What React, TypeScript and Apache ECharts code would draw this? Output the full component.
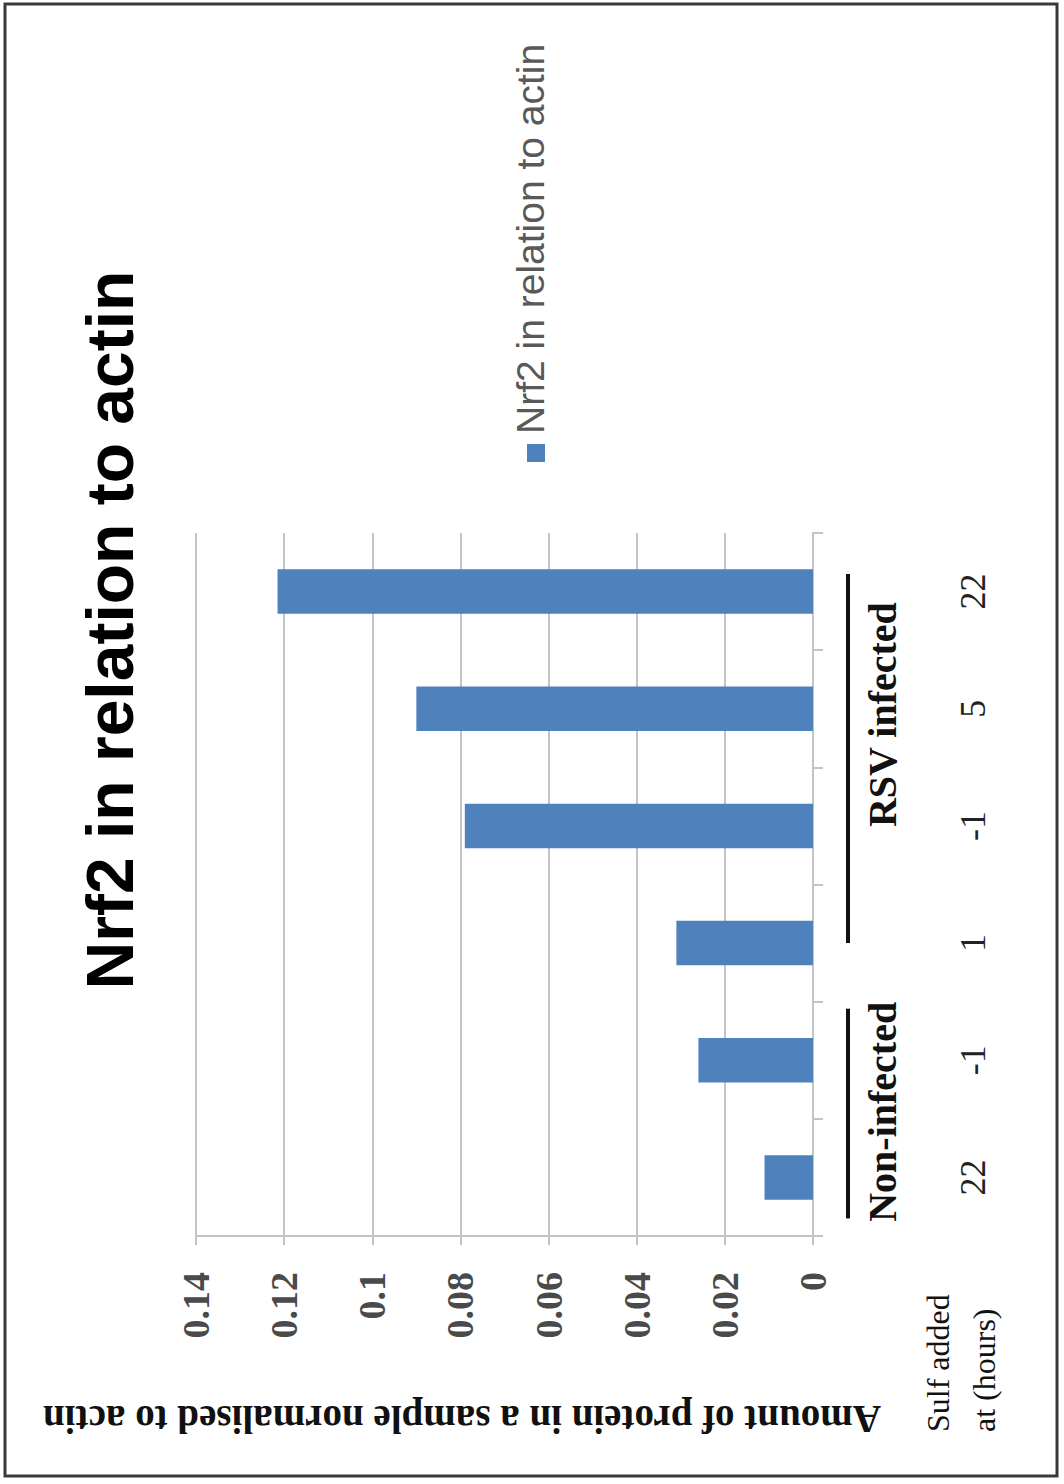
import React, { useEffect, useRef } from 'react';
import * as echarts from 'echarts';

// Time (hours) at which sulforaphane was added, bottom to top
const hoursAdded = ['22', '-1', '1', '-1', '5', '22'];
// Nrf2 band intensity relative to actin
const nrf2Values = [0.011, 0.026, 0.031, 0.079, 0.09, 0.1215];
const valueMin = 0;
const valueMax = 0.14;
const valueInterval = 0.02;

const chartTitle = 'Nrf2 in relation to actin';
const seriesName = 'Nrf2 in relation to actin';
const valueAxisTitle = 'Amount of protein in a sample normalised to actin';
const categoryAxisTitle = 'Sulf added\nat (hours)';
const groupLabels = ['Non-infected', 'RSV infected'];

// Bracket spans, in category-index units
const groupSpans = [
  { from: -0.35, to: 1.44, mid: 0.56 },
  { from: 2.0, to: 5.15, mid: 3.95 },
];

const SERIF = '"Liberation Serif", "Times New Roman", serif';
const SANS = '"Liberation Sans", Arial, sans-serif';
const BAR_BLUE = '#4F81BD';
const GRID_GREY = '#c4c4c4';

export default function App() {
  const ref = useRef<HTMLDivElement>(null);

  useEffect(() => {
    if (!ref.current) return;
    const chart = echarts.init(ref.current, null, { renderer: 'svg' });

    chart.setOption({
      animation: false,
      backgroundColor: '#ffffff',
      grid: { left: 196, right: 251, top: 533, bottom: 248, containLabel: false },
      xAxis: {
        type: 'value',
        inverse: true,
        position: 'bottom',
        min: valueMin,
        max: valueMax,
        interval: valueInterval,
        axisLine: { show: true, lineStyle: { color: GRID_GREY, width: 2 } },
        axisTick: { show: true, length: 9, lineStyle: { color: GRID_GREY, width: 2 } },
        splitLine: { show: true, lineStyle: { color: GRID_GREY, width: 2 } },
        axisLabel: {
          rotate: 90,
          margin: 36,
          fontFamily: SERIF,
          fontWeight: 'bold',
          fontSize: 38,
          color: '#4a4a4a',
        },
      },
      yAxis: {
        type: 'category',
        position: 'right',
        data: hoursAdded,
        axisLine: { show: true, lineStyle: { color: GRID_GREY, width: 2 } },
        axisTick: { show: true, length: 10, lineStyle: { color: GRID_GREY, width: 2 } },
        splitLine: { show: false },
        axisLabel: {
          rotate: 90,
          margin: 142,
          fontFamily: SERIF,
          fontSize: 36,
          color: '#222222',
        },
      },
      series: [
        {
          name: seriesName,
          type: 'bar',
          data: nrf2Values,
          barWidth: '38%',
          itemStyle: { color: BAR_BLUE },
        },
      ],
    });

    // Group brackets placed against the category axis
    const yAt = (idx: number) => {
      const p0 = chart.convertToPixel({ yAxisIndex: 0 }, 0) as number;
      const p5 = chart.convertToPixel({ yAxisIndex: 0 }, 5) as number;
      return p0 + ((p5 - p0) / 5) * idx;
    };
    const xZero = chart.convertToPixel({ xAxisIndex: 0 }, 0) as number;

    const groupGraphics: any[] = [];
    groupSpans.forEach((span, i) => {
      groupGraphics.push({
        type: 'line',
        shape: { x1: xZero + 35, y1: yAt(span.from), x2: xZero + 35, y2: yAt(span.to) },
        style: { stroke: '#111111', lineWidth: 4 },
      });
      groupGraphics.push({
        type: 'text',
        x: xZero + 69,
        y: yAt(span.mid),
        rotation: Math.PI / 2,
        style: {
          text: groupLabels[i],
          font: `bold 40px ${SERIF}`,
          fill: '#111111',
          align: 'center',
          verticalAlign: 'middle',
        },
      });
    });

    chart.setOption({
      graphic: [
        // outer frame
        {
          type: 'rect',
          shape: { x: 5, y: 4, width: 1052, height: 1472 },
          style: { fill: 'none', stroke: '#3a3a3a', lineWidth: 3 },
        },
        // chart title
        {
          type: 'text',
          x: 110,
          y: 630,
          rotation: Math.PI / 2,
          style: {
            text: chartTitle,
            font: `bold 66px ${SANS}`,
            fill: '#000000',
            align: 'center',
            verticalAlign: 'middle',
          },
        },
        // legend marker and text
        {
          type: 'rect',
          shape: { x: 527, y: 444, width: 18, height: 18 },
          style: { fill: BAR_BLUE },
        },
        {
          type: 'text',
          x: 530,
          y: 434,
          rotation: Math.PI / 2,
          style: {
            text: seriesName,
            font: `39px ${SANS}`,
            fill: '#595959',
            align: 'left',
            verticalAlign: 'middle',
          },
        },
        // value axis title, upside down
        {
          type: 'text',
          x: 462,
          y: 1419,
          rotation: Math.PI,
          style: {
            text: valueAxisTitle,
            font: `bold 39px ${SERIF}`,
            fill: '#111111',
            align: 'center',
            verticalAlign: 'middle',
          },
        },
        // category axis title
        {
          type: 'text',
          x: 961,
          y: 1432,
          rotation: Math.PI / 2,
          style: {
            text: categoryAxisTitle,
            font: `32px ${SERIF}`,
            lineHeight: 46,
            fill: '#111111',
            align: 'left',
            verticalAlign: 'middle',
          },
        },
        ...groupGraphics,
      ],
    });

    return () => chart.dispose();
  }, []);

  return (
    <div
      ref={ref}
      style={{ position: 'absolute', left: 0, top: 0, width: 1064, height: 1484 }}
    />
  );
}
